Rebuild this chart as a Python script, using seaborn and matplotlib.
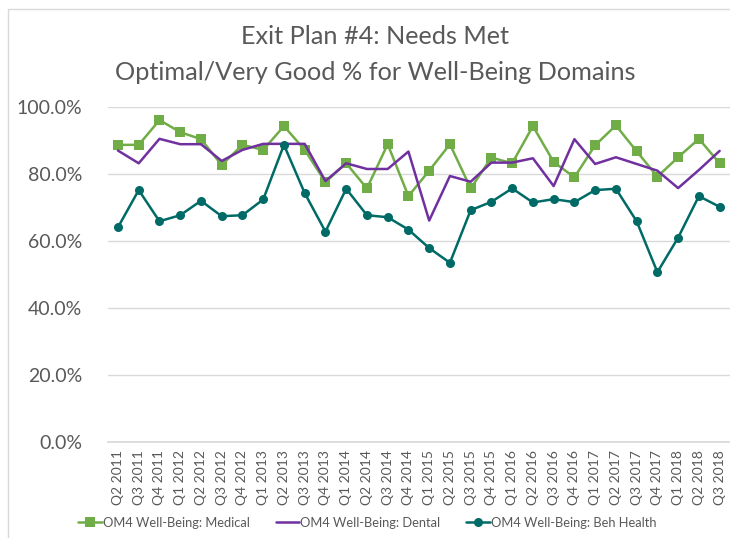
import matplotlib
matplotlib.use("Agg")
import matplotlib.pyplot as plt
import matplotlib.ticker as mticker
from matplotlib.patches import Rectangle
import seaborn as sns
import pandas as pd

quarters = [
    "Q2 2011", "Q3 2011", "Q4 2011", "Q1 2012", "Q2 2012", "Q3 2012",
    "Q4 2012", "Q1 2013", "Q2 2013", "Q3 2013", "Q4 2013", "Q1 2014",
    "Q2 2014", "Q3 2014", "Q4 2014", "Q1 2015", "Q2 2015", "Q3 2015",
    "Q4 2015", "Q1 2016", "Q2 2016", "Q3 2016", "Q4 2016", "Q1 2017",
    "Q2 2017", "Q3 2017", "Q4 2017", "Q1 2018", "Q2 2018", "Q3 2018",
]
medical = [
    88.7, 88.7, 96.1, 92.5, 90.4, 82.7, 88.7, 87.2, 94.3, 87.2,
    77.6, 83.2, 75.7, 88.9, 73.4, 81.0, 88.9, 75.7, 84.9, 83.2,
    94.3, 83.6, 79.0, 88.6, 94.5, 86.8, 79.2, 85.0, 90.5, 83.2,
]
dental = [
    87.0, 83.2, 90.5, 88.9, 88.9, 83.9, 87.2, 89.0, 89.0, 89.0,
    77.9, 83.2, 81.5, 81.5, 86.7, 66.1, 79.4, 77.7, 83.4, 83.4,
    84.7, 76.4, 90.4, 83.0, 85.0, 83.0, 81.0, 75.8, 81.2, 86.9,
]
beh_health = [
    64.1, 75.2, 65.9, 67.7, 72.0, 67.4, 67.7, 72.4, 88.7, 74.3,
    62.8, 75.6, 67.7, 67.1, 63.4, 57.9, 53.5, 69.2, 71.7, 75.7,
    71.5, 72.5, 71.6, 75.2, 75.6, 65.9, 50.7, 61.0, 73.4, 70.2,
]
series_names = [
    "OM4 Well-Being: Medical",
    "OM4 Well-Being: Dental",
    "OM4 Well-Being: Beh Health",
]
title_lines = ["Exit Plan #4: Needs Met", "Optimal/Very Good % for Well-Being Domains"]

sns.set_theme(style="white")
plt.rcParams["font.family"] = ["Lato", "DejaVu Sans"]

text_gray = "#595959"
grid_gray = "#D9D9D9"
green = "#70AD47"
purple = "#7030A0"
teal = "#006B66"

frames = []
for name, vals in zip(series_names, [medical, dental, beh_health]):
    frames.append(pd.DataFrame({
        "idx": range(len(quarters)),
        "value": [v / 100 for v in vals],
        "series": name,
    }))
df = pd.concat(frames, ignore_index=True)

fig = plt.figure(figsize=(7.30, 5.38), dpi=100)
ax = fig.add_axes([0.1474, 0.1784, 0.8526, 0.6227])

styles = {
    series_names[0]: dict(color=green, marker="s", markersize=6.5),
    series_names[1]: dict(color=purple, marker=None),
    series_names[2]: dict(color=teal, marker="o", markersize=6.5),
}
for name in series_names:
    st = styles[name]
    sns.lineplot(
        data=df[df["series"] == name], x="idx", y="value", ax=ax,
        color=st["color"], marker=st["marker"],
        markersize=st.get("markersize", 0), markeredgewidth=0,
        linewidth=1.8, label=name, zorder=3,
    )

n = len(quarters)
ax.set_xlim(-0.5, n - 0.5)
ax.set_ylim(0, 1.0)
ax.set_yticks([0, 0.2, 0.4, 0.6, 0.8, 1.0])
ax.yaxis.set_major_formatter(mticker.PercentFormatter(xmax=1.0, decimals=1))
ax.set_xticks(range(n))
ax.set_xticklabels(quarters, rotation=90)
ax.set_xlabel("")
ax.set_ylabel("")
ax.grid(axis="y", color=grid_gray, linewidth=1.0)
ax.grid(axis="x", visible=False)
for side in ["top", "right", "left"]:
    ax.spines[side].set_visible(False)
ax.spines["bottom"].set_color(grid_gray)
ax.tick_params(axis="y", labelsize=14, labelcolor=text_gray, length=0, pad=18.5)
ax.tick_params(axis="x", labelsize=10, labelcolor=text_gray, length=0, pad=6)

ax.legend_.remove()
handles, labels = ax.get_legend_handles_labels()
fig.legend(
    handles, labels, loc="center", bbox_to_anchor=(0.503, 0.028), ncol=3,
    frameon=False, fontsize=9.3, labelcolor=text_gray, handlelength=1.85,
    handletextpad=0.05, columnspacing=2.0,
)

fig.text(0.514, 0.932, title_lines[0], ha="center", va="center",
         fontsize=18.2, color=text_gray)
fig.text(0.514, 0.866, title_lines[1], ha="center", va="center",
         fontsize=18.2, color=text_gray)

fig.patches.append(Rectangle((8 / 730, -0.1), 1.2, (538 - 9) / 538 + 0.1,
                             transform=fig.transFigure, fill=False,
                             edgecolor="#D9D9D9", linewidth=1.0))

fig.savefig("out.png", dpi=100)
